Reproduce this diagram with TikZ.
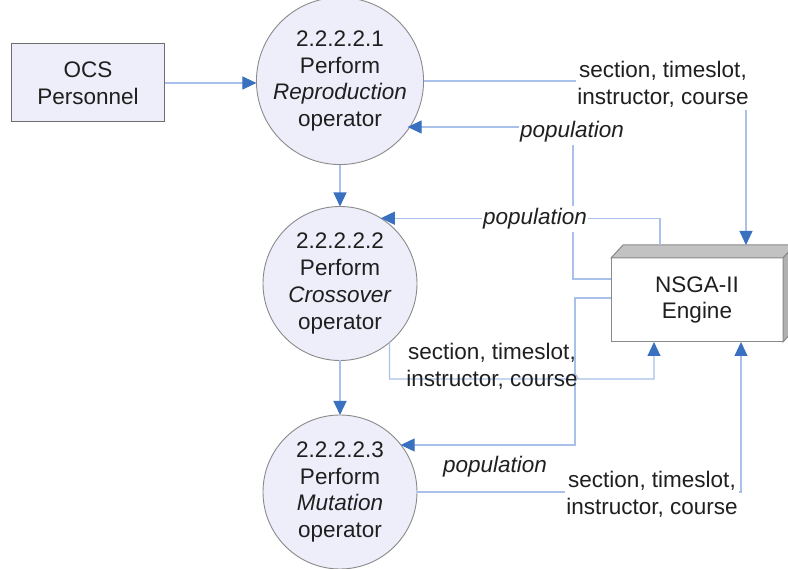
\documentclass[tikz,border=0pt]{standalone}
\usepackage{fontspec}
\setmainfont{Liberation Sans}
\usetikzlibrary{arrows.meta,calc}
\definecolor{procfill}{HTML}{EEEEFB}
\definecolor{rimgray}{HTML}{8A8A8A}
\definecolor{flowline}{HTML}{A8C0EA}
\definecolor{tipblue}{HTML}{3A70C0}
\definecolor{lidgray}{HTML}{C2C2C2}
\definecolor{sidegray}{HTML}{B0B0B0}

\begin{document}
\begin{tikzpicture}[x=1pt,y=-1pt,
  every node/.style={font=\fontsize{22.5}{26.7}\selectfont, text=black!88},
  process/.style={circle, draw=rimgray, fill=procfill, line width=0.9pt,
    minimum size=154pt, inner sep=0pt, outer sep=0pt, align=center},
  entity/.style={rectangle, draw=rimgray!80!black, fill=procfill, line width=1pt,
    minimum width=153pt, minimum height=78pt, outer sep=0pt, align=center},
  store/.style={rectangle, draw=rimgray, fill=white, line width=1pt,
    minimum width=172pt, minimum height=84pt, outer sep=0pt, align=center},
  flow/.style={draw=flowline, line width=1.1pt,
    -{Triangle[length=14pt,width=13pt,color=tipblue]}},
  flowlabel/.style={align=center, inner xsep=1pt, inner ysep=3pt},
  masked/.style={flowlabel, fill=white}
]
\path[use as bounding box, clip] (0,0) rectangle (788,569);

% external entity and the three processes
\node[entity] (ocs) at (88,83) {OCS\\Personnel};
\node[process] (c1) at (340,81) {2.2.2.2.1\\Perform\\\textit{Reproduction}\\operator};
\node[process] (c2) at (340,283.5) {2.2.2.2.2\\Perform\\\textit{Crossover}\\operator};
\node[process] (c3) at (340,492) {2.2.2.2.3\\Perform\\\textit{Mutation}\\operator};

% engine drawn as a raised block
\node[store] (nsga) at (697,300) {NSGA-II\\Engine};
\filldraw[fill=lidgray, draw=rimgray, line width=1pt]
  (nsga.north west) -- ++(12,-13) -- ++(172,0) -- (nsga.north east) -- cycle;
\filldraw[fill=sidegray, draw=rimgray, line width=1pt]
  (nsga.north east) -- ++(12,-13) -- ++(0,84) -- (nsga.south east) -- cycle;

% ports and bends
\coordinate (in1) at ($(nsga.north west)+(135,-13)$);
\coordinate (p1a) at ($(nsga.north west)+(0,21)$);
\coordinate (p1b) at (573,127);
\coordinate (p2a) at ($(nsga.north west)+(49,-13)$);
\coordinate (p3a) at ($(nsga.north west)+(0,40)$);
\coordinate (p3b) at (575,445);
\coordinate (hop) at (573,379);
\coordinate (in2) at ($(nsga.south west)+(43,0)$);
\coordinate (in3) at ($(nsga.south west)+(130,0)$);

% flows
\draw[flow] (ocs.east) -- (ocs.east -| c1.west);
\draw[flow] (c1.south) -- (c2.north);
\draw[flow] (c2.south) -- (c3.north);
\draw[flow] (c1.east) -| (in1);
\draw[flow] (p1a) -| (p1b) -- (p1b -| c1.-36.7);
\draw[flow] (p2a) |- (c2.58);
\draw[flow] (p3a) -| (p3b) -- (p3b -| c3.38.8);
\draw[flow] (c2.-50.8) |- ($(hop)+(-5,0)$)
  arc[start angle=180, end angle=0, radius=5pt] -| (in2);
\draw[flow] (c3.east) -| (in3);

% flow labels
\node[masked] at (663,84) {section, timeslot,\\instructor, course};
\node[masked] at (572,132) {\textit{population}};
\node[masked] at (535,219) {\textit{population}};
\node[flowlabel] at (495,467) {\textit{population}};
\node[flowlabel] at (492,366) {section, timeslot,\\instructor, course};
\node[masked] at (652,494) {section, timeslot,\\instructor, course};
\end{tikzpicture}
\end{document}
